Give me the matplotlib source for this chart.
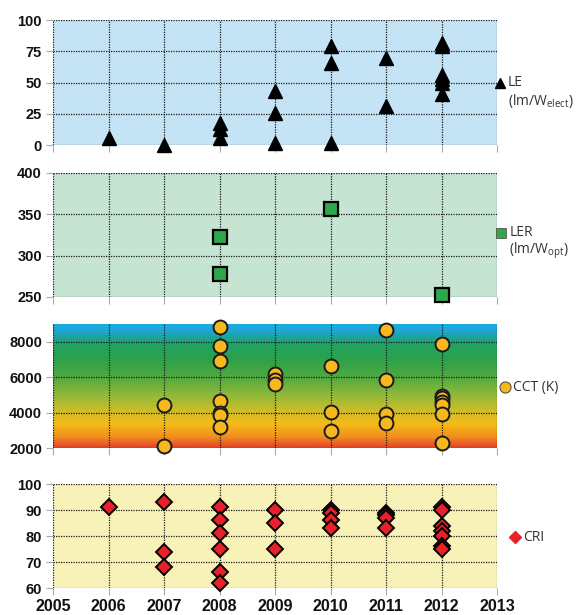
import numpy as np
import matplotlib
matplotlib.use("Agg")
import matplotlib.pyplot as plt
from matplotlib.colors import LinearSegmentedColormap

# ---------------- data ----------------
years = [2005, 2006, 2007, 2008, 2009, 2010, 2011, 2012, 2013]

le_years = [2006, 2007, 2008, 2008, 2008, 2009, 2009, 2009, 2010, 2010, 2010,
            2011, 2011, 2012, 2012, 2012, 2012, 2012, 2012]
le_values = [6, 0, 18, 13, 6, 43, 26, 1.5, 79, 66, 2,
             70, 31, 82, 79, 56, 53, 50, 41]

ler_years = [2008, 2008, 2010, 2012]
ler_values = [323, 278, 357, 253]

cct_years = [2007, 2007, 2008, 2008, 2008, 2008, 2008, 2008, 2008,
             2009, 2009, 2009, 2010, 2010, 2010,
             2011, 2011, 2011, 2011,
             2012, 2012, 2012, 2012, 2012, 2012, 2012]
cct_values = [4400, 2100, 8850, 7750, 6900, 4680, 3950, 3860, 3160,
              6150, 5850, 5600, 6650, 4040, 2940,
              8650, 5840, 3910, 3400,
              7850, 4950, 4800, 4620, 4450, 3930, 2280]

cri_years = [2006, 2007, 2007, 2007, 2008, 2008, 2008, 2008, 2008, 2008,
             2009, 2009, 2009, 2010, 2010, 2010, 2010,
             2011, 2011, 2011, 2011,
             2012, 2012, 2012, 2012, 2012, 2012, 2012]
cri_values = [91, 93, 74, 68, 91, 86, 81, 75, 66, 62,
              90, 85, 75, 90, 89, 86, 83,
              89, 88, 87, 83,
              91, 90, 84, 82, 80, 76, 75]

le_ticks = [0, 25, 50, 75, 100]
ler_ticks = [250, 300, 350, 400]
cct_ticks = [2000, 4000, 6000, 8000]
cri_ticks = [60, 70, 80, 90, 100]

# ---------------- figure ----------------
W, H = 579, 615
fig = plt.figure(figsize=(W / 100, H / 100), dpi=100)
fig.patch.set_facecolor("white")

def frac(top, bottom):
    return [53 / W, 1 - bottom / H, 444 / W, (bottom - top) / H]

ax1 = fig.add_axes(frac(20, 145))
ax2 = fig.add_axes(frac(173, 297))
ax3 = fig.add_axes(frac(324, 448))
ax4 = fig.add_axes(frac(484, 588))
axes = [ax1, ax2, ax3, ax4]

tick_font = dict(family="Liberation Sans", weight="bold", size=10.5)
leg_font = dict(family="Open Sans", size=10, color="#333333")

for ax in axes:
    ax.set_xlim(2005, 2013)
    ax.set_xticks(years)
    for s in ax.spines.values():
        s.set_visible(False)
    ax.grid(True, color="#1a1a1a", linestyle=(0, (1, 1)), linewidth=0.9, zorder=1)
    ax.set_axisbelow(True)
    ax.tick_params(axis="both", direction="out", length=5, width=0.8, color="#aaaaaa", pad=3)

for ax in [ax1, ax2, ax3]:
    ax.tick_params(axis="x", labelbottom=False)

# Panel 1: LE
ax1.set_facecolor("#c4e4f5")
ax1.set_ylim(0, 100)
ax1.set_yticks(le_ticks)
ax1.plot(le_years, le_values, linestyle="none", marker="^", ms=9.5,
         color="black", zorder=3, clip_on=False)

# Panel 2: LER
ax2.set_facecolor("#c6e4d2")
ax2.set_ylim(250, 400)
ax2.set_yticks(ler_ticks)
ax2.plot(ler_years, ler_values, linestyle="none", marker="s", ms=9.5,
         markerfacecolor="#2fa84c", markeredgecolor="black", markeredgewidth=1.6,
         zorder=3, clip_on=False)

# Panel 3: CCT with gradient background
stops = [(2000, "#e5402a"), (2600, "#f08d1f"), (3300, "#f6ba18"), (4000, "#d2be28"),
         (5000, "#8fb83a"), (6000, "#4eaa40"), (7000, "#2ca14a"), (7800, "#22a263"),
         (8300, "#1ea3a8"), (8600, "#1ca8d8"), (9000, "#1caae2")]
cmap = LinearSegmentedColormap.from_list(
    "cct", [((v - 2000) / 7000, c) for v, c in stops])
grad = np.linspace(0, 1, 512).reshape(-1, 1)
ax3.imshow(grad, cmap=cmap, origin="lower", aspect="auto",
           extent=[2005, 2013, 2000, 9000], zorder=0)
ax3.set_xlim(2005, 2013)
ax3.set_ylim(2000, 9000)
ax3.set_yticks(cct_ticks)
ax3.plot(cct_years, cct_values, linestyle="none", marker="o", ms=10,
         markerfacecolor="#f7b81e", markeredgecolor="#1a1a1a", markeredgewidth=1.4,
         zorder=3, clip_on=False)

# Panel 4: CRI
ax4.set_facecolor("#f8f2b9")
ax4.set_ylim(60, 100)
ax4.set_yticks(cri_ticks)
ax4.plot(cri_years, cri_values, linestyle="none", marker="D", ms=8,
         markerfacecolor="#e8202a", markeredgecolor="black", markeredgewidth=1.4,
         zorder=3, clip_on=False)

for ax in axes:
    for lab in ax.get_yticklabels() + ax.get_xticklabels():
        lab.set_fontfamily(tick_font["family"])
        lab.set_fontweight(tick_font["weight"])
        lab.set_fontsize(tick_font["size"])
        lab.set_color("#111111")
for lab in ax4.get_xticklabels():
    lab.set_fontsize(11.5)

# ---------------- side legends ----------------
def side_legend(ax, yfrac, marker, ms, fc, ec, text, line2=None, xoff=1.007, mew=1.0):
    ax.plot([xoff], [yfrac], transform=ax.transAxes, marker=marker, ms=ms,
            markerfacecolor=fc, markeredgecolor=ec, markeredgewidth=mew,
            linestyle="none", clip_on=False, zorder=5)
    ax.text(xoff + 0.018, yfrac, text, transform=ax.transAxes,
            ha="left", va="center", **leg_font)
    if line2:
        ax.text(xoff + 0.018, yfrac - 0.15, line2, transform=ax.transAxes,
                ha="left", va="center", **leg_font)

side_legend(ax1, 0.50, "^", 7, "black", "black", "LE",
            r"(lm/W$_{\mathregular{elect}}$)")
side_legend(ax2, 0.52, "s", 7.5, "#2fa84c", "#555555", "LER",
            r"(lm/W$_{\mathregular{opt}}$)", xoff=1.010, mew=0.6)
side_legend(ax3, 0.49, "o", 8, "#f7b81e", "#555555", "CCT (K)", xoff=1.018, mew=0.8)
side_legend(ax4, 0.49, "D", 6, "#e8202a", "#e8202a", "CRI", xoff=1.04)

fig.savefig("out.png", dpi=100, facecolor="white")
